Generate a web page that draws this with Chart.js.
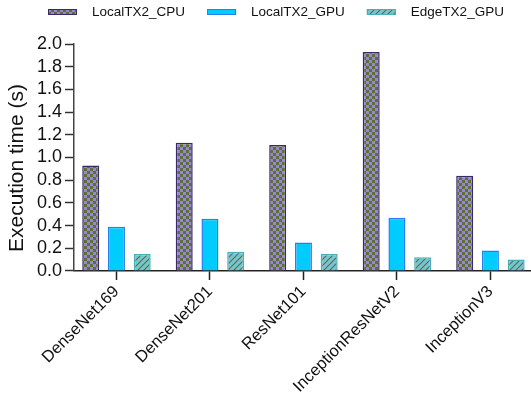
<!DOCTYPE html>
<html>
<head>
<meta charset="utf-8">
<script src="https://cdn.jsdelivr.net/npm/chart.js@4/dist/chart.umd.min.js"></script>
<style>
  html, body { margin: 0; padding: 0; background: #fff; }
  #wrap { width: 531px; height: 409px; position: relative; }
</style>
</head>
<body>
<div id="wrap"><canvas id="c"></canvas></div>
<script>
// Models on the x axis
const models = ['DenseNet169', 'DenseNet201', 'ResNet101', 'InceptionResNetV2', 'InceptionV3'];
// Execution time in seconds per configuration
const localCpu = [0.93, 1.13, 1.11, 1.93, 0.84];
const localGpu = [0.39, 0.46, 0.25, 0.47, 0.18];
const edgeGpu  = [0.15, 0.17, 0.15, 0.12, 0.10];
const seriesNames = ['LocalTX2_CPU', 'LocalTX2_GPU', 'EdgeTX2_GPU'];
const yTicks = [0, 0.2, 0.4, 0.6, 0.8, 1.0, 1.2, 1.4, 1.6, 1.8, 2.0];
const yTitle = 'Execution time (s)';

const FONT = '"Liberation Sans", Arial, Helvetica, sans-serif';

// Fill patterns
function checkerPattern() {
  const t = document.createElement('canvas');
  t.width = 6; t.height = 6;
  const g = t.getContext('2d');
  g.fillStyle = '#9c84da'; g.fillRect(0, 0, 6, 6);
  g.fillStyle = '#587232';
  g.fillRect(0, 0, 3, 3); g.fillRect(3, 3, 3, 3);
  return g.createPattern(t, 'repeat');
}
function stripePattern() {
  const s = 6;
  const t = document.createElement('canvas');
  t.width = s; t.height = s;
  const g = t.getContext('2d');
  g.fillStyle = '#5ed0d6'; g.fillRect(0, 0, s, s);
  g.strokeStyle = '#b4473a'; g.lineWidth = 1.2;
  g.beginPath();
  g.moveTo(-1, s + 1); g.lineTo(s + 1, -1);
  g.moveTo(-1, 1); g.lineTo(1, -1);
  g.moveTo(s - 1, s + 1); g.lineTo(s + 1, s - 1);
  g.stroke();
  return g.createPattern(t, 'repeat');
}

const toPoints = arr => arr.map((v, i) => ({ x: i, y: v }));

// Legend row along the top and the rotated y-axis title
const decorations = {
  id: 'decorations',
  afterDraw(chart) {
    const ctx = chart.ctx;
    ctx.save();
    ctx.font = '13.5px ' + FONT;
    ctx.textBaseline = 'middle';
    let x = 48; const y = 12;
    chart.data.datasets.forEach(ds => {
      ctx.fillStyle = ds.backgroundColor;
      ctx.fillRect(x, y - 3, 29, 6);
      ctx.strokeStyle = ds.borderColor; ctx.lineWidth = 1;
      ctx.strokeRect(x + 0.5, y - 2.5, 28, 5);
      x += 29 + 15;
      ctx.fillStyle = '#111';
      ctx.fillText(ds.label, x, y);
      x += ctx.measureText(ds.label).width + 22;
    });
    ctx.restore();

    ctx.save();
    ctx.font = '21px ' + FONT;
    ctx.fillStyle = '#111';
    ctx.textAlign = 'center';
    ctx.textBaseline = 'middle';
    ctx.translate(17, 168);
    ctx.rotate(-Math.PI / 2);
    ctx.fillText(yTitle, 0, 0);
    ctx.restore();
  }
};

new Chart(document.getElementById('c'), {
  type: 'bar',
  data: {
    datasets: [
      { label: seriesNames[0], data: toPoints(localCpu), backgroundColor: checkerPattern(), borderColor: '#3a2868', borderWidth: 1.5 },
      { label: seriesNames[1], data: toPoints(localGpu), backgroundColor: '#00ccff', borderColor: '#2a7cf0', borderWidth: 1.5 },
      { label: seriesNames[2], data: toPoints(edgeGpu),  backgroundColor: stripePattern(), borderColor: '#48b0b4', borderWidth: 1.5 }
    ]
  },
  options: {
    responsive: true,
    maintainAspectRatio: false,
    animation: false,
    categoryPercentage: 0.826,
    barPercentage: 0.66,
    layout: { padding: { top: 44, left: 34, right: 0, bottom: 10.5 } },
    plugins: { legend: { display: false }, tooltip: { enabled: false } },
    scales: {
      x: {
        type: 'linear',
        offset: false,
        min: -0.454,
        max: 4.434,
        afterBuildTicks: s => { s.ticks = models.map((_, i) => ({ value: i })); },
        ticks: {
          autoSkip: false, maxRotation: 45, minRotation: 45,
          callback: v => models[v],
          font: { family: FONT, size: 16.5 }, color: '#111', padding: 2
        },
        grid: { offset: false, drawOnChartArea: false, tickLength: 9, color: '#222', tickWidth: 1.5 },
        border: { color: '#222', width: 1.5 }
      },
      y: {
        min: 0, max: 2,
        afterBuildTicks: s => { s.ticks = yTicks.map(v => ({ value: v })); },
        ticks: {
          autoSkip: false,
          callback: v => v.toFixed(1),
          font: { family: FONT, size: 18 }, color: '#111', padding: 3
        },
        grid: { drawOnChartArea: false, tickLength: 9, color: '#333', tickWidth: 1.5 },
        border: { color: '#444', width: 1.5 },
        title: { display: false }
      }
    }
  },
  plugins: [decorations]
});
</script>
</body>
</html>
